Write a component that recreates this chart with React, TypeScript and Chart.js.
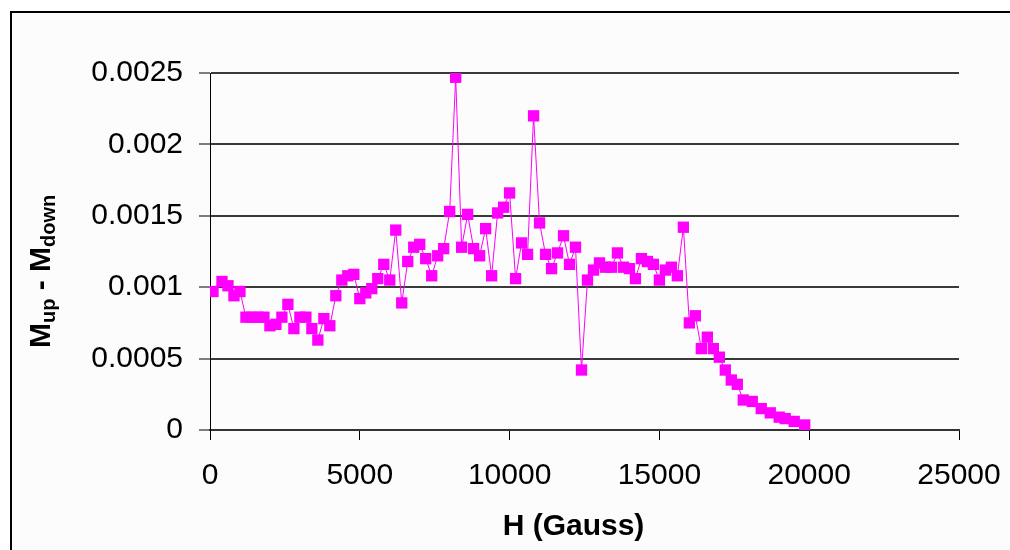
import React, { useEffect, useRef } from 'react';
import { Chart, registerables } from 'chart.js';

Chart.register(...registerables);

// Field H (Gauss)
const fieldH = [
  100, 400, 600, 800, 1000, 1200, 1400, 1600, 1800, 2000,
  2200, 2400, 2600, 2800, 3000, 3200, 3400, 3600, 3800, 4000,
  4200, 4400, 4600, 4800, 5000, 5200, 5400, 5600, 5800, 6000,
  6200, 6400, 6600, 6800, 7000, 7200, 7400, 7600, 7800, 8000,
  8200, 8400, 8600, 8800, 9000, 9200, 9400, 9600, 9800, 10000,
  10200, 10400, 10600, 10800, 11000, 11200, 11400, 11600, 11800, 12000,
  12200, 12400, 12600, 12800, 13000, 13200, 13400, 13600, 13800, 14000,
  14200, 14400, 14600, 14800, 15000, 15200, 15400, 15600, 15800, 16000,
  16200, 16400, 16600, 16800, 17000, 17200, 17400, 17600, 17800, 18100,
  18400, 18700, 19000, 19200, 19500, 19850,
];

// M_up - M_down
const deltaM = [
  0.00097, 0.00104, 0.00101, 0.00094, 0.00097, 0.00079, 0.00079, 0.00079, 0.00079, 0.00073,
  0.00074, 0.00079, 0.00088, 0.00071, 0.00079, 0.00079, 0.00071, 0.00063, 0.00078, 0.00073,
  0.00094, 0.00105, 0.00108, 0.00109, 0.00092, 0.00096, 0.00099, 0.00106, 0.00116, 0.00105,
  0.0014, 0.00089, 0.00118, 0.00128, 0.0013, 0.0012, 0.00108, 0.00122, 0.00127, 0.00153,
  0.00247, 0.00128, 0.00151, 0.00127, 0.00122, 0.00141, 0.00108, 0.00152, 0.00156, 0.00166,
  0.00106, 0.00131, 0.00123, 0.0022, 0.00145, 0.00123, 0.00113, 0.00124, 0.00136, 0.00116,
  0.00128, 0.00042, 0.00105, 0.00112, 0.00117, 0.00114, 0.00114, 0.00124, 0.00114, 0.00113,
  0.00106, 0.0012, 0.00118, 0.00116, 0.00105, 0.00112, 0.00114, 0.00108, 0.00142, 0.00075,
  0.0008, 0.00057, 0.00065, 0.00057, 0.00051, 0.00042, 0.00035, 0.00032, 0.00021, 0.0002,
  0.00015, 0.00012, 0.00009, 0.00008, 0.00006, 0.000035,
];

const xTickLabels = ['0', '5000', '10000', '15000', '20000', '25000'];
const yTickLabels = ['0', '0.0005', '0.001', '0.0015', '0.002', '0.0025'];
const xTitle = 'H (Gauss)';
// [text, isSubscript]
const yTitleParts: [string, boolean][] = [
  ['M', false],
  ['up', true],
  [' - M', false],
  ['down', true],
];

const FONT = '"Liberation Sans", Arial, Helvetica, sans-serif';

const decorPlugin = {
  id: 'decor',
  beforeDraw(chart: any) {
    const ctx = chart.ctx;
    ctx.save();
    ctx.fillStyle = '#ffffff';
    ctx.fillRect(0, 0, chart.width, chart.height);
    ctx.fillStyle = '#fcfcfc';
    ctx.fillRect(11, 12, chart.width, chart.height);
    ctx.strokeStyle = '#000000';
    ctx.lineWidth = 2;
    ctx.beginPath();
    ctx.moveTo(11, chart.height + 5);
    ctx.lineTo(11, 12);
    ctx.lineTo(chart.width + 5, 12);
    ctx.stroke();
    ctx.restore();
  },
  afterDraw(chart: any) {
    const ctx = chart.ctx;
    const area = chart.chartArea;
    ctx.save();
    ctx.fillStyle = '#000000';
    ctx.font = `bold 30px ${FONT}`;
    ctx.textAlign = 'center';
    ctx.textBaseline = 'middle';
    ctx.fillText(xTitle, (area.left + area.right) / 2 - 11, 527);

    ctx.translate(50, 348);
    ctx.rotate(-Math.PI / 2);
    ctx.textAlign = 'left';
    ctx.textBaseline = 'alphabetic';
    let x = 0;
    for (const [t, sub] of yTitleParts) {
      ctx.font = sub ? `bold 20px ${FONT}` : `bold 30px ${FONT}`;
      ctx.fillText(t, x, sub ? 5 : 0);
      x += ctx.measureText(t).width;
    }
    ctx.restore();
  },
};

export default function App() {
  const canvasRef = useRef<HTMLCanvasElement | null>(null);

  useEffect(() => {
    if (!canvasRef.current) return;
    const points = fieldH.map((h, i) => ({ x: h, y: deltaM[i] }));
    const chart = new Chart(canvasRef.current, {
      type: 'line',
      data: {
        datasets: [
          {
            data: points,
            borderColor: '#ff00ff',
            borderWidth: 1,
            backgroundColor: '#ff00ff',
            pointStyle: 'rect',
            pointRadius: 8,
            pointBorderWidth: 0,
            pointBackgroundColor: '#ff00ff',
            pointBorderColor: '#ff00ff',
            tension: 0,
            fill: false,
          },
        ],
      },
      options: {
        responsive: false,
        animation: false,
        events: [],
        layout: { padding: { left: 0, right: 51, top: 73, bottom: 0 } },
        plugins: {
          legend: { display: false },
          tooltip: { enabled: false },
          title: { display: false },
        },
        scales: {
          x: {
            type: 'linear',
            min: 0,
            max: 25000,
            ticks: {
              stepSize: 5000,
              autoSkip: false,
              maxRotation: 0,
              padding: 18,
              color: '#000000',
              font: { family: FONT, size: 30 },
              callback: (_v: any, i: number) => xTickLabels[i],
            },
            grid: {
              display: true,
              drawOnChartArea: false,
              drawTicks: true,
              tickLength: 10,
              tickColor: '#000000',
              tickWidth: 1,
            },
            border: { display: true, color: '#333333', width: 2 },
            afterFit: (s: any) => {
              s.height = 120;
              s.paddingLeft = 0;
              s.paddingRight = 0;
            },
          },
          y: {
            type: 'linear',
            min: 0,
            max: 0.0025,
            ticks: {
              stepSize: 0.0005,
              autoSkip: false,
              padding: 16,
              color: '#000000',
              font: { family: FONT, size: 30 },
              callback: (_v: any, i: number) => yTickLabels[i],
            },
            grid: {
              color: '#3a3a3a',
              lineWidth: 2,
              drawTicks: true,
              tickLength: 11,
              tickColor: '#000000',
              tickWidth: 1,
            },
            border: { display: true, color: '#000000', width: 1 },
            afterFit: (s: any) => {
              s.width = 210;
              s.paddingTop = 0;
              s.paddingBottom = 0;
            },
          },
        },
      },
      plugins: [decorPlugin],
    });
    return () => chart.destroy();
  }, []);

  return (
    <div style={{ position: 'fixed', left: 0, top: 0, width: 1010, height: 550, background: '#fff' }}>
      <canvas ref={canvasRef} width={1010} height={550} style={{ display: 'block', width: 1010, height: 550 }} />
    </div>
  );
}
